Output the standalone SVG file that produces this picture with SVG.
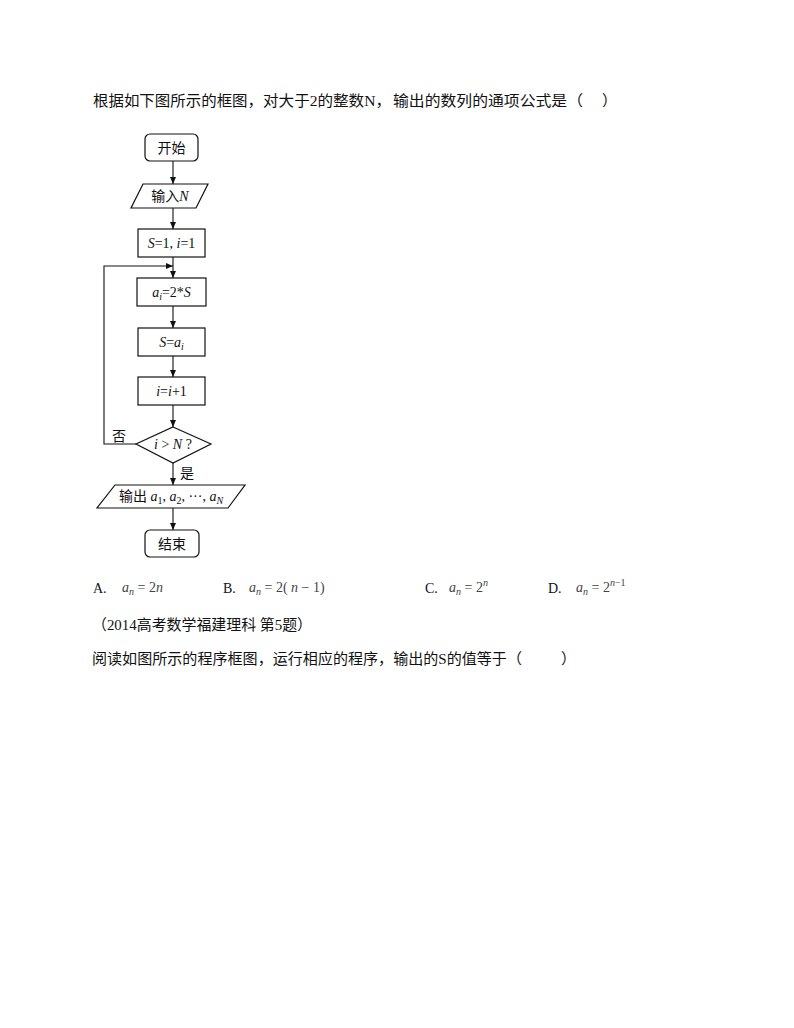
<svg xmlns="http://www.w3.org/2000/svg" width="794" height="1028" viewBox="0 0 794 1028">
<defs>
<style>
.q{font-family:"Liberation Serif","Noto Sans CJK SC",serif;font-size:15px;fill:#111}
.t{font-family:"Liberation Serif","Noto Sans CJK SC",serif;font-size:14px;fill:#111}
.i{font-style:italic}
.s{font-size:10px}
.f{font-family:"Liberation Serif",serif;font-size:14px;fill:#444}
.shape{fill:#fff;stroke:#111;stroke-width:1.2}
.line{fill:none;stroke:#111;stroke-width:1.1}
</style>
<marker id="ah" markerWidth="8" markerHeight="8" refX="7" refY="4" orient="auto" markerUnits="userSpaceOnUse">
<path d="M0,1 L7,4 L0,7 Z" fill="#111"/>
</marker>
</defs>
<rect width="794" height="1028" fill="#fff"/>

<g id="question1">
<text class="q" x="93" y="106" textLength="170" lengthAdjust="spacingAndGlyphs">根据如下图所示的框图，</text>
<text class="q" x="263" y="106" textLength="128" lengthAdjust="spacingAndGlyphs">对大于2的整数N，</text>
<text class="q" x="393" y="106" textLength="190" lengthAdjust="spacingAndGlyphs">输出的数列的通项公式是（</text>
<text class="q" x="602" y="106">）</text>
</g>

<g id="connectors">
<line class="line" x1="173" y1="161" x2="173" y2="184" marker-end="url(#ah)"/>
<line class="line" x1="173" y1="208" x2="173" y2="229" marker-end="url(#ah)"/>
<line class="line" x1="173" y1="257" x2="173" y2="278" marker-end="url(#ah)"/>
<line class="line" x1="173" y1="306" x2="173" y2="328" marker-end="url(#ah)"/>
<line class="line" x1="173" y1="356" x2="173" y2="377" marker-end="url(#ah)"/>
<line class="line" x1="173" y1="405" x2="173" y2="427" marker-end="url(#ah)"/>
<line class="line" x1="173" y1="463" x2="173" y2="485" marker-end="url(#ah)"/>
<line class="line" x1="173" y1="508" x2="173" y2="530" marker-end="url(#ah)"/>
<polyline class="line" points="136,444 104,444 104,266 173,266" marker-end="url(#ah)"/>
<text class="t" x="112" y="441">否</text>
<text class="t" x="180" y="478">是</text>
</g>

<g id="start">
<rect class="shape" x="145" y="134" width="53" height="27" rx="5"/>
<text class="t" x="171.5" y="152.5" text-anchor="middle">开始</text>
</g>

<g id="input">
<polygon class="shape" points="143,184 208,184 196,208 131,208"/>
<text class="t" x="170" y="201" text-anchor="middle">输入<tspan class="i">N</tspan></text>
</g>

<g id="init">
<rect class="shape" x="138" y="229" width="67" height="28"/>
<text class="t" x="171.5" y="248" text-anchor="middle"><tspan class="i">S</tspan>=1, <tspan class="i">i</tspan>=1</text>
</g>

<g id="assign-a">
<rect class="shape" x="137" y="278" width="69" height="28"/>
<text class="t" x="171.5" y="297" text-anchor="middle"><tspan class="i">a</tspan><tspan class="i s" dy="3">i</tspan><tspan dy="-3">=2*</tspan><tspan class="i">S</tspan></text>
</g>

<g id="assign-s">
<rect class="shape" x="138" y="328" width="67" height="28"/>
<text class="t" x="171.5" y="347" text-anchor="middle"><tspan class="i">S</tspan>=<tspan class="i">a</tspan><tspan class="i s" dy="3">i</tspan></text>
</g>

<g id="increment">
<rect class="shape" x="138" y="377" width="67" height="28"/>
<text class="t" x="171.5" y="396" text-anchor="middle"><tspan class="i">i</tspan>=<tspan class="i">i</tspan>+1</text>
</g>

<g id="decision">
<polygon class="shape" points="173,427 211,444 173,463 136,444"/>
<text class="t" x="173" y="449" text-anchor="middle"><tspan class="i">i</tspan> &gt; <tspan class="i">N</tspan> ?</text>
</g>

<g id="output">
<polygon class="shape" points="115,485 245,485 228,508 97,508"/>
<text class="t" x="171" y="501" text-anchor="middle">输出 <tspan class="i">a</tspan><tspan class="s" dy="3">1</tspan><tspan dy="-3">, </tspan><tspan class="i">a</tspan><tspan class="s" dy="3">2</tspan><tspan dy="-3">, ···, </tspan><tspan class="i">a</tspan><tspan class="i s" dy="3">N</tspan></text>
</g>

<g id="end">
<rect class="shape" x="145" y="530" width="54" height="27" rx="5"/>
<text class="t" x="172" y="548.5" text-anchor="middle">结束</text>
</g>

<g id="options">
<text class="q" x="93" y="593" style="font-size:14px">A.</text>
<text class="f" x="122" y="592"><tspan class="i">a</tspan><tspan class="i s" dy="3">n</tspan><tspan dy="-3"> = 2</tspan><tspan class="i">n</tspan></text>
<text class="q" x="223" y="593" style="font-size:14px">B.</text>
<text class="f" x="249" y="592"><tspan class="i">a</tspan><tspan class="i s" dy="3">n</tspan><tspan dy="-3"> = 2( </tspan><tspan class="i">n</tspan> − 1)</text>
<text class="q" x="425" y="593" style="font-size:14px">C.</text>
<text class="f" x="449" y="592"><tspan class="i">a</tspan><tspan class="i s" dy="3">n</tspan><tspan dy="-3"> = 2</tspan><tspan class="i s" dy="-6">n</tspan></text>
<text class="q" x="548" y="593" style="font-size:14px">D.</text>
<text class="f" x="576" y="592"><tspan class="i">a</tspan><tspan class="i s" dy="3">n</tspan><tspan dy="-3"> = 2</tspan><tspan class="i s" dy="-6">n</tspan><tspan class="s">−1</tspan></text>
</g>

<g id="question2">
<text class="q" x="92" y="630" textLength="220" lengthAdjust="spacingAndGlyphs">（2014高考数学福建理科 第5题）</text>
<text class="q" x="92" y="664" textLength="430" lengthAdjust="spacingAndGlyphs">阅读如图所示的程序框图，运行相应的程序，输出的S的值等于（</text>
<text class="q" x="561" y="664">）</text>
</g>
</svg>
